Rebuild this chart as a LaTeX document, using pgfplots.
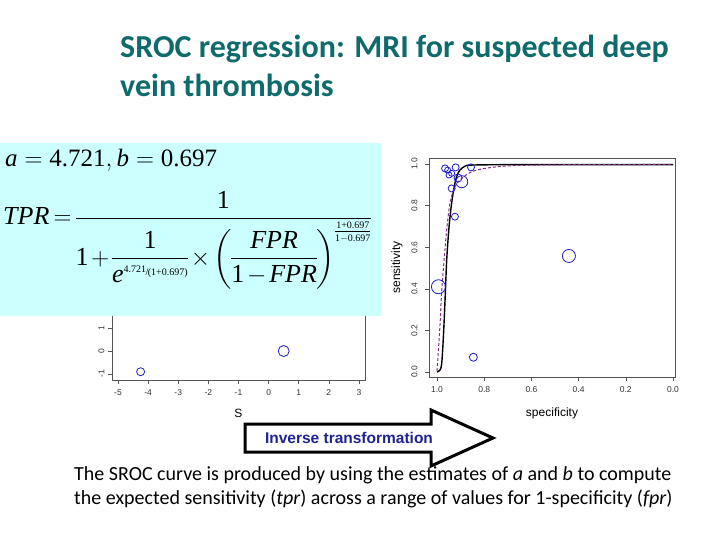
\documentclass[border=0pt]{standalone}
\usepackage{pgfplots}
\pgfplotsset{compat=1.18}
\usepackage{amsmath}
\usepackage{fontspec}
\setmainfont{Carlito}
\newfontfamily\arial{Liberation Sans}
\newfontfamily\tnr{Liberation Serif}

\definecolor{titleteal}{HTML}{0F6B6B}
\definecolor{boxcyan}{HTML}{CCFFFF}
\definecolor{rblue}{HTML}{1C1CC4}
\definecolor{rpurple}{HTML}{8A2A8A}
\definecolor{arrowblue}{HTML}{1F2390}
\definecolor{rgray}{HTML}{555555}

\newcommand{\mi}[1]{\text{\itshape #1}}
\newcommand{\mn}[1]{\text{#1}}
\newcommand{\sm}[1]{\text{\fontsize{10}{11}\selectfont #1}}

% study points: specificity, sensitivity, circle radius
\pgfplotstableread{
sp     se     r
0.966  0.979  3.5
0.955  0.971  3
0.921  0.984  3.5
0.856  0.984  3.5
0.949  0.947  3
0.938  0.955  3
0.895  0.915  6
0.911  0.933  4
0.938  0.883  3.5
0.924  0.747  3.5
0.994  0.410  7
0.846  0.071  4
0.441  0.558  6.5
}\studies

\pgfplotsset{
  rstyle/.style={
    scale only axis,
    axis line style={rgray, line width=0.7pt},
    tick style={rgray, line width=0.6pt},
    tick align=outside,
    major tick length=4pt,
    xtick pos=bottom, ytick pos=left,
    tick label style={font=\arial\fontsize{8.5}{9}\selectfont, text=black!80},
    /pgf/number format/assume math mode=true,
    yticklabel style={rotate=90},
    label style={font=\arial\fontsize{12}{13}\selectfont},
    clip=false,
  },
}

\begin{document}
\begin{tikzpicture}
\useasboundingbox (0,0) rectangle (720pt,-540pt);
\fill[white] (0,0) rectangle (720pt,-540pt);

% title
\node[anchor=base west, inner sep=0, text=titleteal, font=\bfseries\fontsize{32}{36}\selectfont]
  at (120pt,-58pt) {SROC regression: MRI for suspected deep};
\node[anchor=base west, inner sep=0, text=titleteal, font=\bfseries\fontsize{32}{36}\selectfont]
  at (120pt,-97pt) {vein thrombosis};

% left plot (mostly hidden behind the formula)
\begin{axis}[rstyle,
  at={(112pt,-380pt)}, anchor=south west,
  width=253pt, height=230pt,
  xmin=-5.2, xmax=3.2, ymin=-1.26, ymax=8.74,
  xtick={-5,...,3}, ytick={-1,...,8},
  xticklabel shift=2pt,
  xlabel={S},
  xlabel shift=7pt,
]
\addplot[only marks, mark=o, mark size=4, rblue, line width=0.8pt] coordinates {(-4.25,-0.9)};
\addplot[only marks, mark=o, mark size=5.5, rblue, line width=0.8pt] coordinates {(0.5,0.0)};
\end{axis}

% formula box
\fill[boxcyan] (0pt,-143pt) rectangle (381pt,-316pt);
\node[anchor=base west, inner sep=0, font=\tnr\fontsize{25}{28}\selectfont] at (5pt,-167pt)
  {$\mi{a}=\mn{4.721},\mi{b}=\mn{0.697}$};
\node[anchor=base west, inner sep=0, font=\tnr\fontsize{26}{29}\selectfont] at (3pt,-225pt)
  {\medmuskip=2mu \thickmuskip=3mu \nulldelimiterspace=0pt
  $\mi{TPR}=\dfrac{\mn{1}}{\mn{1}+\dfrac{\mn{1}}{\mi{e}^{\sm{\raisebox{3pt}{4.721}\kern-0.5pt/\kern-0.5pt(1+0.697)}}}\times\left(\dfrac{\mi{FPR}}{\mn{1}-\mi{FPR}}\right)^{\frac{\sm{1+0.697}}{\sm{1$-$0.697}}}}$};

% right plot: SROC in ROC space
\begin{axis}[rstyle,
  at={(429pt,-377pt)}, anchor=south west,
  width=246pt, height=219pt,
  x dir=reverse,
  xmin=-0.0085, xmax=1.034, ymin=-0.024, ymax=1.029,
  xtick={0,0.2,0.4,0.6,0.8,1}, ytick={0,0.2,0.4,0.6,0.8,1},
  xticklabel style={/pgf/number format/.cd, fixed, fixed zerofill, precision=1},
  yticklabel style={/pgf/number format/.cd, fixed, fixed zerofill, precision=1},
  xticklabel shift=2pt, yticklabel shift=4pt,
  xlabel={specificity}, ylabel={sensitivity},
  xlabel shift=8pt, ylabel shift=2pt,
]
\addplot[black, line width=1.4pt, smooth] coordinates {
  (1.000,0.000)(0.987,0.010)(0.980,0.043)(0.973,0.170)(0.966,0.346)
  (0.959,0.538)(0.949,0.699)(0.938,0.813)(0.927,0.891)(0.917,0.939)
  (0.903,0.971)(0.881,0.990)(0.853,0.995)(0.700,0.997)(0.400,0.997)(0.000,0.997)
};
\addplot[rpurple, line width=1pt, dash pattern=on 3pt off 2pt, smooth] coordinates {
  (1.000,0.005)(0.994,0.106)(0.987,0.234)(0.980,0.394)(0.970,0.538)
  (0.959,0.683)(0.945,0.813)(0.924,0.891)(0.895,0.931)(0.853,0.963)
  (0.797,0.979)(0.712,0.990)(0.585,0.995)(0.400,0.997)(0.000,0.998)
};
\addplot[only marks, mark=o, rblue, line width=0.8pt, scatter, point meta=explicit,
  scatter/use mapped color={draw=rblue},
  visualization depends on={\thisrow{r} \as \rr},
  scatter/@pre marker code/.append style={/tikz/mark size=\rr}]
  table[x=sp, y=se, meta=r] {\studies};
\end{axis}

% arrow
\draw[black, line width=3pt, line join=miter]
  (245pt,-424pt) -- (431pt,-424pt) -- (431pt,-410pt) -- (493pt,-438pt)
  -- (431pt,-466pt) -- (431pt,-452pt) -- (245pt,-452pt) -- cycle;
\node[anchor=base, inner sep=0, text=arrowblue, font=\arial\bfseries\fontsize{15.5}{17}\selectfont]
  at (349pt,-443pt) {Inverse transformation};

% caption
\node[anchor=base west, inner sep=0, font=\fontsize{20}{24}\selectfont] at (74pt,-480pt)
  {The SROC curve is produced by using the estimates of \textit{a} and \textit{b} to compute};
\node[anchor=base west, inner sep=0, font=\fontsize{20}{24}\selectfont] at (74pt,-504pt)
  {the expected sensitivity (\textit{tpr}) across a range of values for 1-specificity (\textit{fpr})};
\end{tikzpicture}
\end{document}
